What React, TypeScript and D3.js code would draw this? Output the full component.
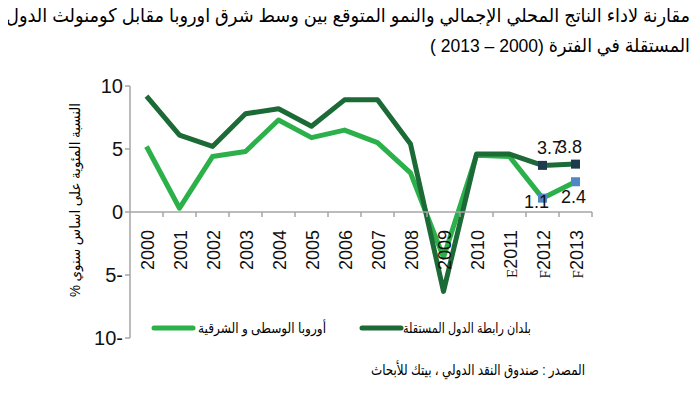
import React from "react";
import * as d3 from "d3";

// values (GDP growth, %)
const years = ["2000", "2001", "2002", "2003", "2004", "2005", "2006", "2007", "2008", "2009", "2010", "E2011", "F2012", "F2013"];
const ceeGrowth = [5.2, 0.3, 4.4, 4.8, 7.3, 5.9, 6.5, 5.5, 3.1, -3.6, 4.5, 4.4, 1.1, 2.4];
const cisGrowth = [9.2, 6.1, 5.2, 7.8, 8.2, 6.8, 8.9, 8.9, 5.4, -6.3, 4.6, 4.6, 3.7, 3.8];
const yTicks = [10, 5, 0, -5, -10];
const markedYears = ["F2012", "F2013"];

const titleLines = [
  "مقارنة لأداء الناتج المحلي الإجمالي والنمو المتوقع بين وسط  شرق أوروبا مقابل كومنولث الدول",
  "المستقلة في الفترة (2000 – 2013 )",
];
const yTitle = "النسبة المئوية على اساس سنوي %";
const ceeName = "أوروبا الوسطى و الشرقية";
const cisName = "بلدان رابطة الدول المستقلة";
const sourceText = "المصدر : صندوق النقد الدولي ، بيتك للأبحاث";

const W = 700;
const H = 394;
const LIGHT = "#2bb04a";
const DARK = "#1c6b37";
const NUM_FONT = "'Liberation Sans', Arial, sans-serif";
const AR_FONT = "'Liberation Sans', 'DejaVu Sans', sans-serif";

export default function App() {
  const x = d3.scaleBand().domain(years).range([130, 592]);
  const y = d3.scaleLinear().domain([-10, 10]).range([338, 86]);
  const cx = (d: string) => (x(d) as number) + x.bandwidth() / 2;

  const line = d3
    .line<number>()
    .x((_, i) => cx(years[i]))
    .y((d) => y(d));

  const fmt = (v: number) => (v < 0 ? `${-v}-` : `${v}`);
  const marked = years.map((d, i) => ({ d, i })).filter((o) => markedYears.includes(o.d));

  // label offsets for the two forecast points (dx, dy from the marker)
  const cisLabelOff = [[7, -11], [-6, -11]];
  const ceeLabelOff = [[-6, 10], [-2, 21]];

  return (
    <div style={{ margin: -8 }}>
      <svg width={W} height={H} style={{ display: "block", background: "#fff" }}>
        {/* title */}
        <text x={348} y={22} direction="rtl" textAnchor="middle" fontFamily={AR_FONT} fontSize={19} textLength={684} lengthAdjust="spacingAndGlyphs">
          {titleLines[0]}
        </text>
        <text x={560} y={52} direction="rtl" textAnchor="middle" fontFamily={AR_FONT} fontSize={19} textLength={260} lengthAdjust="spacingAndGlyphs">
          {titleLines[1]}
        </text>

        {/* y axis */}
        <line x1={130} x2={130} y1={y(10)} y2={y(-10)} stroke="#a6a6a6" strokeWidth={1.5} />
        {yTicks.map((t) => (
          <g key={t}>
            <line x1={125} x2={130} y1={y(t)} y2={y(t)} stroke="#a6a6a6" strokeWidth={1.5} />
            <text x={123} y={y(t) + 7} textAnchor="end" fontFamily={NUM_FONT} fontSize={20} fill="#111">
              {fmt(t)}
            </text>
          </g>
        ))}
        <text
          transform={`translate(80,200) rotate(-90)`}
          direction="rtl"
          textAnchor="middle"
          fontFamily={AR_FONT}
          fontSize={14}
          textLength={194}
          lengthAdjust="spacingAndGlyphs"
        >
          {yTitle}
        </text>

        {/* series */}
        <path d={line(ceeGrowth) || ""} fill="none" stroke={LIGHT} strokeWidth={5} strokeLinejoin="round" />
        <path d={line(cisGrowth) || ""} fill="none" stroke={DARK} strokeWidth={5} strokeLinejoin="round" />

        {/* x axis */}
        <line x1={130} x2={592} y1={y(0)} y2={y(0)} stroke="#a6a6a6" strokeWidth={1.5} />
        {years.map((d) => (
          <line key={d} x1={(x(d) as number) + x.bandwidth()} x2={(x(d) as number) + x.bandwidth()} y1={y(0)} y2={y(0) + 5} stroke="#a6a6a6" strokeWidth={1.5} />
        ))}
        {years.map((d) => {
          const m = d.match(/^([A-Z]?)(\d+)$/) || ["", "", d];
          return (
            <text key={d} transform={`translate(${cx(d) + 7},230) rotate(-90)`} textAnchor="end" fontFamily={NUM_FONT} fontSize={18} fill="#111">
              {m[1] ? (
                <tspan fontFamily="'Liberation Serif', serif" fontSize={15}>
                  {m[1]}
                </tspan>
              ) : null}
              {m[2]}
            </text>
          );
        })}

        {/* forecast markers and labels */}
        {marked.map(({ d, i }, k) => (
          <g key={d}>
            <rect x={cx(d) - 4.5} y={y(ceeGrowth[i]) - 4.5} width={9} height={9} fill="#4f86c6" />
            <rect x={cx(d) - 4.5} y={y(cisGrowth[i]) - 4.5} width={9} height={9} fill="#1d3b4c" />
            <text x={cx(d) + cisLabelOff[k][0]} y={y(cisGrowth[i]) + cisLabelOff[k][1]} textAnchor="middle" fontFamily={NUM_FONT} fontSize={18} fill="#111">
              {cisGrowth[i].toFixed(1)}
            </text>
            <text x={cx(d) + ceeLabelOff[k][0]} y={y(ceeGrowth[i]) + ceeLabelOff[k][1]} textAnchor="middle" fontFamily={NUM_FONT} fontSize={18} fill="#111">
              {ceeGrowth[i].toFixed(1)}
            </text>
          </g>
        ))}

        {/* legend */}
        <line x1={154} x2={193} y1={328} y2={328} stroke={LIGHT} strokeWidth={5} strokeLinecap="round" />
        <text x={262} y={333} direction="rtl" textAnchor="middle" fontFamily={AR_FONT} fontSize={14} textLength={128} lengthAdjust="spacingAndGlyphs">
          {ceeName}
        </text>
        <line x1={362} x2={401} y1={328} y2={328} stroke={DARK} strokeWidth={5} strokeLinecap="round" />
        <text x={467} y={333} direction="rtl" textAnchor="middle" fontFamily={AR_FONT} fontSize={14} textLength={128} lengthAdjust="spacingAndGlyphs">
          {cisName}
        </text>

        {/* source */}
        <text x={478} y={375} direction="rtl" textAnchor="middle" fontFamily={AR_FONT} fontSize={15} textLength={214} lengthAdjust="spacingAndGlyphs">
          {sourceText}
        </text>
      </svg>
    </div>
  );
}
